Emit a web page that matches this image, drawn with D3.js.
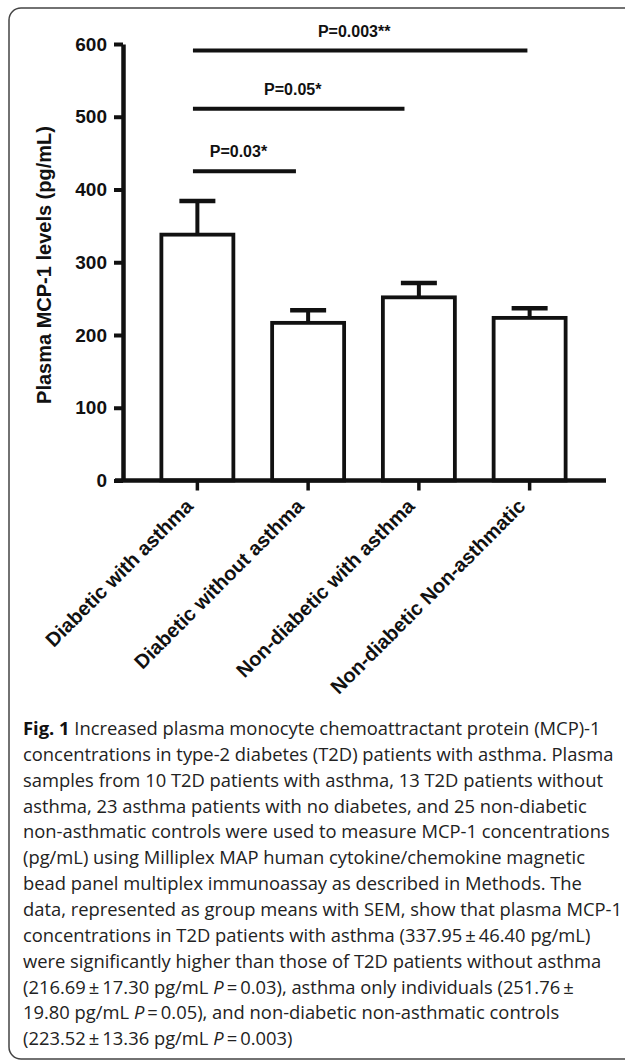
<!DOCTYPE html>
<html>
<head>
<meta charset="utf-8">
<script src="https://cdn.jsdelivr.net/npm/d3@7"></script>
<style>
  html, body { margin: 0; padding: 0; background: #fff; }
  svg { display: block; }
  .chart text { font-family: "Liberation Sans", Arial, sans-serif; font-weight: bold; fill: #111; }
  .caption text { font-family: "Open Sans", "Noto Sans", sans-serif; fill: #222; }
</style>
</head>
<body>
<svg id="fig" width="625" height="1063"></svg>
<script>
// data
var groups = ["Diabetic with asthma", "Diabetic without asthma", "Non-diabetic with asthma", "Non-diabetic Non-asthmatic"];
var means = [337.95, 216.69, 251.76, 223.52];
var sems = [46.40, 17.30, 19.80, 13.36];
var yTicks = [0, 100, 200, 300, 400, 500, 600];

// significance bars: start / end in group units, height in pg/mL
var compFrom = [-0.04, -0.04, -0.04];
var compTo = [0.89, 1.87, 2.98];
var compLevel = [425, 511, 591];
var compLabel = ["P=0.03*", "P=0.05*", "P=0.003**"];

var captionLines = [
  "**Fig. 1** Increased plasma monocyte chemoattractant protein (MCP)-1",
  "concentrations in type-2 diabetes (T2D) patients with asthma. Plasma",
  "samples from 10 T2D patients with asthma, 13 T2D patients without",
  "asthma, 23 asthma patients with no diabetes, and 25 non-diabetic",
  "non-asthmatic controls were used to measure MCP-1 concentrations",
  "(pg/mL) using Milliplex MAP human cytokine/chemokine magnetic",
  "bead panel multiplex immunoassay as described in Methods. The",
  "data, represented as group means with SEM, show that plasma MCP-1",
  "concentrations in T2D patients with asthma (337.95\u2009\u00b1\u200946.40 pg/mL)",
  "were significantly higher than those of T2D patients without asthma",
  "(216.69\u2009\u00b1\u200917.30 pg/mL _P_\u2009=\u20090.03), asthma only individuals (251.76\u2009\u00b1",
  "19.80 pg/mL _P_\u2009=\u20090.05), and non-diabetic non-asthmatic controls",
  "(223.52\u2009\u00b1\u200913.36 pg/mL _P_\u2009=\u20090.003)"
];

var svg = d3.select("#fig");

// frame with rounded corners, running off the right edge
svg.append("rect")
    .attr("x", 9).attr("y", 8)
    .attr("width", 660).attr("height", 1051)
    .attr("rx", 12).attr("ry", 12)
    .attr("fill", "none")
    .attr("stroke", "#444")
    .attr("stroke-width", 1.5);

var g = svg.append("g").attr("class", "chart");

var axisX = 123, axisY0 = 115, axisY1 = 606;

var x = d3.scaleBand()
    .domain(groups)
    .range([142, 585])
    .paddingInner(0.35)
    .paddingOuter(0.175);

// group index -> centre, for the comparison bars
var xi = d3.scaleLinear()
    .domain([0, groups.length - 1])
    .range([x(groups[0]) + x.bandwidth() / 2, x(groups[groups.length - 1]) + x.bandwidth() / 2]);

var y = d3.scaleLinear()
    .domain([0, 600])
    .range([480.5, 44]);

var data = groups.map(function(d, i) { return {name: d, mean: means[i], sem: sems[i]}; });

// bars
g.append("g")
  .selectAll("rect")
  .data(data)
  .enter().append("rect")
    .attr("x", function(d) { return x(d.name); })
    .attr("y", function(d) { return y(d.mean); })
    .attr("width", x.bandwidth())
    .attr("height", function(d) { return y(0) - y(d.mean); })
    .attr("fill", "#fff")
    .attr("stroke", "#111")
    .attr("stroke-width", 3.8);

// error bars (upper only)
var err = g.append("g").attr("stroke", "#111");
err.selectAll("line.v")
  .data(data)
  .enter().append("line")
    .attr("class", "v")
    .attr("x1", function(d) { return x(d.name) + x.bandwidth() / 2; })
    .attr("x2", function(d) { return x(d.name) + x.bandwidth() / 2; })
    .attr("y1", function(d) { return y(d.mean); })
    .attr("y2", function(d) { return y(d.mean + d.sem); })
    .attr("stroke-width", 4);
err.selectAll("line.cap")
  .data(data)
  .enter().append("line")
    .attr("class", "cap")
    .attr("x1", function(d) { return x(d.name) + x.bandwidth() / 2 - 18; })
    .attr("x2", function(d) { return x(d.name) + x.bandwidth() / 2 + 18; })
    .attr("y1", function(d) { return y(d.mean + d.sem); })
    .attr("y2", function(d) { return y(d.mean + d.sem); })
    .attr("stroke-width", 4.5);

// y axis
var yAxis = g.append("g")
    .attr("transform", "translate(" + axisX + ",0)")
    .call(d3.axisLeft(y).tickValues(yTicks).tickSize(9).tickSizeOuter(0).tickPadding(7));
yAxis.select(".domain").attr("stroke", "#111").attr("stroke-width", 4.5);
yAxis.selectAll(".tick line").attr("stroke", "#111").attr("stroke-width", 4);
yAxis.selectAll(".tick text")
    .attr("font-size", 19)
    .attr("font-family", null)
    .attr("fill", "#111");

// x axis baseline + ticks
g.append("line")
    .attr("x1", axisY0).attr("x2", axisY1)
    .attr("y1", y(0)).attr("y2", y(0))
    .attr("stroke", "#111")
    .attr("stroke-width", 4.5);

var xAxis = g.append("g")
    .attr("transform", "translate(0," + y(0) + ")")
    .call(d3.axisBottom(x).tickSize(10).tickSizeOuter(0).tickFormat(""));
xAxis.select(".domain").remove();
xAxis.selectAll(".tick line").attr("stroke", "#111").attr("stroke-width", 3.5);

g.append("g")
  .selectAll("text")
  .data(groups)
  .enter().append("text")
    .attr("transform", function(d) {
      return "translate(" + (x(d) + x.bandwidth() / 2 - 3) + "," + (y(0) + 27) + ") rotate(-45)";
    })
    .attr("text-anchor", "end")
    .attr("font-size", 20)
    .text(function(d) { return d; });

// y axis title
g.append("text")
    .attr("transform", "translate(44,265) rotate(-90)")
    .attr("text-anchor", "middle")
    .attr("dy", "0.35em")
    .attr("font-size", 20)
    .text("Plasma MCP-1 levels (pg/mL)");

// significance bars
var comp = g.append("g");
compLabel.forEach(function(lab, i) {
  var x1 = xi(compFrom[i]), x2 = xi(compTo[i]), yy = y(compLevel[i]);
  comp.append("line")
      .attr("x1", x1).attr("x2", x2)
      .attr("y1", yy).attr("y2", yy)
      .attr("stroke", "#111")
      .attr("stroke-width", 4);
  comp.append("text")
      .attr("x", (x1 + x2) / 2 - 6)
      .attr("y", yy - 14)
      .attr("text-anchor", "middle")
      .attr("font-size", 16)
      .text(lab);
});

// caption
var cap = svg.append("g").attr("class", "caption");
var capX = 23, capY = 735, capStep = 25.85;
captionLines.forEach(function(line, i) {
  var t = cap.append("text")
      .attr("x", capX)
      .attr("y", capY + i * capStep)
      .attr("font-size", 17);
  line.split(/(\*\*[^*]+\*\*|_[^_]+_)/).forEach(function(part) {
    if (!part) return;
    if (part.indexOf("**") === 0) {
      t.append("tspan").attr("font-weight", "bold").attr("fill", "#111").text(part.slice(2, -2));
    } else if (part.charAt(0) === "_") {
      t.append("tspan").attr("font-style", "italic").text(part.slice(1, -1));
    } else {
      t.append("tspan").text(part);
    }
  });
});

// fit caption size to the width of the widest line in the picture
var widest = cap.selectAll("text").nodes()[1].getComputedTextLength();
var fs = 17 * 591 / widest;
cap.selectAll("text").attr("font-size", fs);
</script>
</body>
</html>
